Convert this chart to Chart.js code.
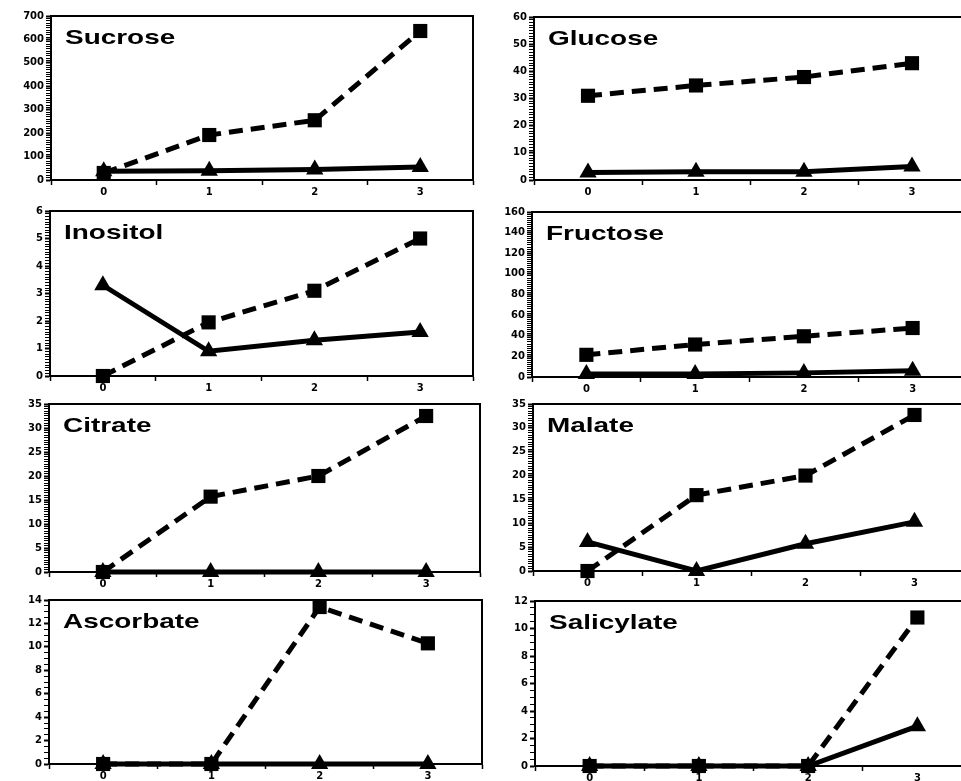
<!DOCTYPE html>
<html>
<head>
<meta charset="utf-8">
<script src="https://cdn.jsdelivr.net/npm/chart.js@4.4.1/dist/chart.umd.min.js"></script>
<style>
  html, body { margin: 0; padding: 0; background: #fff; overflow: hidden; }
  body { width: 961px; height: 781px; position: relative; }
  .panel { position: absolute; }
</style>
</head>
<body>
<script>
const days = ['0', '1', '2', '3'];

const names = ['Sucrose', 'Glucose', 'Inositol', 'Fructose', 'Citrate', 'Malate', 'Ascorbate', 'Salicylate'];

// dashed line with squares
const squares = [
  [30, 192, 255, 636],     // Sucrose
  [31, 34.8, 37.9, 43],    // Glucose
  [0, 1.95, 3.1, 5.0],     // Inositol
  [21.5, 31.5, 39.5, 47.5],// Fructose
  [0, 15.7, 20, 32.5],     // Citrate
  [0, 15.9, 20, 32.7],     // Malate
  [0, 0, 13.4, 10.3],      // Ascorbate
  [0, 0, 0, 10.8]          // Salicylate
];

// solid line with triangles
const triangles = [
  [37, 40, 45, 56],
  [2.8, 3, 3, 5],
  [3.3, 0.9, 1.3, 1.6],
  [3, 3, 4, 6],
  [0, 0, 0, 0],
  [6.1, 0, 5.7, 10.3],
  [0, 0, 0, 0],
  [0, 0, 0, 2.9]
];

const yMax = [700, 60, 6, 160, 35, 35, 14, 12];
const yMajor = [100, 10, 1, 20, 5, 5, 2, 2];
const yMinor = [10, 1, 0.1, 2, 0.5, 0.5, 0.5, 0.5];

// plot area of each panel on the page: left, top, right, bottom
const boxes = [
  [51, 16, 473, 180], [534, 17, 966, 180],
  [50, 211, 473, 376], [532, 212, 967, 377],
  [49, 404, 480, 572], [533, 404, 969, 571],
  [49, 600, 482, 764], [535, 601, 972, 766]
];

const Y_W = 51, X_H = 18, PAD_T = 8, PAD_R = 4;
const tickFont = { family: '"DejaVu Sans", sans-serif', size: 10, weight: 'bold' };

const panelTitle = {
  id: 'panelTitle',
  afterDatasetsDraw(chart, args, opts) {
    const { ctx, chartArea } = chart;
    ctx.save();
    ctx.translate(chartArea.left + 14, chartArea.top + 28);
    ctx.scale(1.33, 1);
    ctx.font = 'bold 21px "Liberation Sans", Arial, sans-serif';
    ctx.fillStyle = '#000';
    ctx.fillText(opts.text, 0, 0);
    ctx.restore();
  }
};

const frame = {
  id: 'frame',
  beforeDatasetsDraw(chart) {
    const { ctx, chartArea: a } = chart;
    ctx.save();
    ctx.strokeStyle = '#000';
    ctx.lineWidth = 2;
    ctx.beginPath();
    ctx.moveTo(a.left, a.top);
    ctx.lineTo(a.right, a.top);
    ctx.lineTo(a.right, a.bottom);
    ctx.stroke();
    ctx.restore();
  }
};

function isMajor(v, step) {
  const r = v / step;
  return Math.abs(r - Math.round(r)) < 1e-6;
}

names.forEach((name, i) => {
  const [l, t, r, b] = boxes[i];
  const wrap = document.createElement('div');
  wrap.className = 'panel';
  wrap.style.width = (r - l + Y_W + PAD_R) + 'px';
  wrap.style.height = (b - t + PAD_T + X_H) + 'px';
  wrap.style.left = (l - Y_W) + 'px';
  wrap.style.top = (t - PAD_T) + 'px';
  const cv = document.createElement('canvas');
  wrap.appendChild(cv);
  document.body.appendChild(wrap);

  const chart = new Chart(cv, {
    type: 'line',
    data: {
      labels: days,
      datasets: [
        {
          data: triangles[i],
          borderColor: '#000',
          backgroundColor: '#000',
          borderWidth: 5,
          pointStyle: 'triangle',
          pointRadius: 10,
          pointBorderWidth: 0,
          tension: 0,
          clip: false
        },
        {
          data: squares[i],
          borderColor: '#000',
          backgroundColor: '#000',
          borderWidth: 5,
          borderDash: [14, 8],
          pointStyle: 'rect',
          pointRadius: 10,
          pointBorderWidth: 0,
          tension: 0,
          clip: false
        }
      ]
    },
    options: {
      responsive: true,
      maintainAspectRatio: false,
      animation: false,
      events: [],
      layout: { padding: { top: PAD_T, right: PAD_R, left: 0, bottom: 0 } },
      plugins: {
        legend: { display: false },
        tooltip: { enabled: false },
        panelTitle: { text: name }
      },
      scales: {
        x: {
          type: 'category',
          offset: true,
          grid: { offset: true, drawOnChartArea: false, tickLength: 5, tickWidth: 1.5, tickColor: '#000' },
          border: { color: '#000', width: 2 },
          ticks: { color: '#000', font: tickFont, padding: 1, maxRotation: 0 },
          afterFit(s) { s.height = X_H; s.paddingLeft = 0; s.paddingRight = 0; }
        },
        y: {
          min: 0,
          max: yMax[i],
          grid: {
            drawOnChartArea: false,
            tickLength: 5,
            tickColor: '#000',
            tickWidth: ctx => (ctx.tick && isMajor(ctx.tick.value, yMajor[i])) ? 2 : 1
          },
          border: { color: '#000', width: 2 },
          ticks: {
            stepSize: yMinor[i],
            autoSkip: false,
            color: '#000',
            font: tickFont,
            padding: 2,
            callback: v => isMajor(v, yMajor[i]) ? String(Math.round(v)) : ''
          },
          afterFit(s) { s.width = Y_W; s.paddingTop = 0; s.paddingBottom = 0; }
        }
      }
    },
    plugins: [panelTitle, frame]
  });

  // nudge the panel so its plot area lands on the box
  const a = chart.chartArea;
  const dw = (r - l) - (a.right - a.left);
  const dh = (b - t) - (a.bottom - a.top);
  if (dw || dh) {
    wrap.style.width = (wrap.offsetWidth + dw) + 'px';
    wrap.style.height = (wrap.offsetHeight + dh) + 'px';
    chart.resize();
  }
  const a2 = chart.chartArea;
  wrap.style.left = (l - a2.left) + 'px';
  wrap.style.top = (t - a2.top) + 'px';
});
</script>
</body>
</html>
